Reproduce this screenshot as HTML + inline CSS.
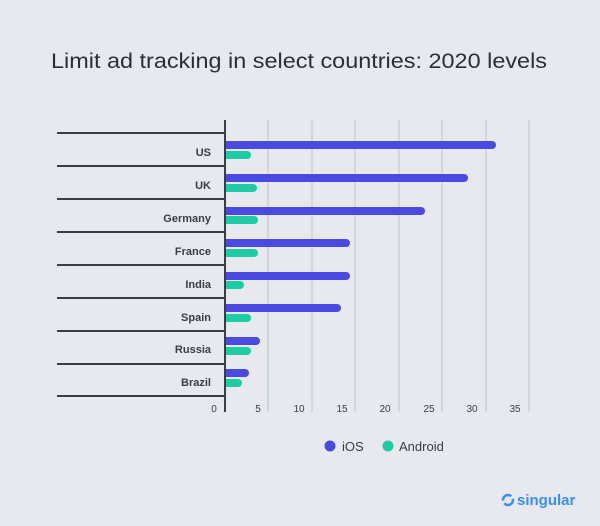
<!DOCTYPE html><html><head><style>body{margin:0;background:#e7e9ee;}svg{display:block}text{font-family:"Liberation Sans",sans-serif}</style></head><body>
<svg width="600" height="526" viewBox="0 0 600 526">
<rect width="600" height="526" fill="#e7e9ee"/>
<text x="299" y="68" font-size="21.5" fill="#2a2e3a" text-anchor="middle" textLength="496" lengthAdjust="spacingAndGlyphs">Limit ad tracking in select countries: 2020 levels</text>
<g stroke="#cdd0d8" stroke-width="1.5">
<line x1="268" y1="120" x2="268" y2="412"/><line x1="312" y1="120" x2="312" y2="412"/><line x1="355" y1="120" x2="355" y2="412"/><line x1="399" y1="120" x2="399" y2="412"/><line x1="442" y1="120" x2="442" y2="412"/><line x1="486" y1="120" x2="486" y2="412"/><line x1="529" y1="120" x2="529" y2="412"/>
</g>
<g stroke-width="8" stroke-linecap="round">
<g stroke="#4a4ae0">
<line x1="230" y1="145" x2="492" y2="145"/><line x1="230" y1="178" x2="464" y2="178"/><line x1="230" y1="211" x2="421" y2="211"/><line x1="230" y1="243" x2="346" y2="243"/><line x1="230" y1="276" x2="346" y2="276"/><line x1="230" y1="308" x2="337" y2="308"/><line x1="230" y1="341" x2="256" y2="341"/><line x1="230" y1="373" x2="245" y2="373"/>
</g>
<g stroke="#1ecba5">
<line x1="230" y1="155" x2="247" y2="155"/><line x1="230" y1="188" x2="253" y2="188"/><line x1="230" y1="220" x2="254" y2="220"/><line x1="230" y1="253" x2="254" y2="253"/><line x1="230" y1="285" x2="240" y2="285"/><line x1="230" y1="318" x2="247" y2="318"/><line x1="230" y1="351" x2="247" y2="351"/><line x1="230" y1="383" x2="238" y2="383"/>
</g></g>
<g fill="#4a4ae0"><rect x="226" y="141" width="6" height="8"/><rect x="226" y="174" width="6" height="8"/><rect x="226" y="207" width="6" height="8"/><rect x="226" y="239" width="6" height="8"/><rect x="226" y="272" width="6" height="8"/><rect x="226" y="304" width="6" height="8"/><rect x="226" y="337" width="6" height="8"/><rect x="226" y="369" width="6" height="8"/></g>
<g fill="#1ecba5"><rect x="226" y="151" width="6" height="8"/><rect x="226" y="184" width="6" height="8"/><rect x="226" y="216" width="6" height="8"/><rect x="226" y="249" width="6" height="8"/><rect x="226" y="281" width="6" height="8"/><rect x="226" y="314" width="6" height="8"/><rect x="226" y="347" width="6" height="8"/><rect x="226" y="379" width="6" height="8"/></g>
<g stroke="#3a3d46" stroke-width="2">
<line x1="225" y1="120" x2="225" y2="412"/>
<line x1="57" y1="133" x2="225" y2="133"/><line x1="57" y1="166" x2="225" y2="166"/><line x1="57" y1="199" x2="225" y2="199"/><line x1="57" y1="232" x2="225" y2="232"/><line x1="57" y1="265" x2="225" y2="265"/><line x1="57" y1="298" x2="225" y2="298"/><line x1="57" y1="331" x2="225" y2="331"/><line x1="57" y1="364" x2="225" y2="364"/><line x1="57" y1="396" x2="225" y2="396"/>
</g>
<g font-size="11" font-weight="bold" fill="#3a3d46" text-anchor="end">
<text x="211" y="156">US</text><text x="211" y="189">UK</text><text x="211" y="222">Germany</text><text x="211" y="255">France</text><text x="211" y="288">India</text><text x="211" y="321">Spain</text><text x="211" y="353">Russia</text><text x="211" y="386">Brazil</text>
</g>
<g font-size="10" fill="#3a3d46" text-anchor="middle">
<text x="214" y="412">0</text><text x="258" y="412">5</text><text x="299" y="412">10</text><text x="342" y="412">15</text><text x="385" y="412">20</text><text x="429" y="412">25</text><text x="472" y="412">30</text><text x="515" y="412">35</text>
</g>
<circle cx="330" cy="446" r="5.5" fill="#4a4ae0"/><text x="342" y="451" font-size="13" fill="#3a3d46">iOS</text>
<circle cx="388" cy="446" r="5.5" fill="#1ecba5"/><text x="399" y="451" font-size="13" fill="#3a3d46">Android</text>
<circle cx="508" cy="500" r="5" fill="none" stroke="#3b8ff0" stroke-width="2.5" stroke-dasharray="12 3"/>
<text x="517" y="505" font-size="15" font-weight="bold" fill="#3b8ff0">singular</text>
</svg></body></html>
